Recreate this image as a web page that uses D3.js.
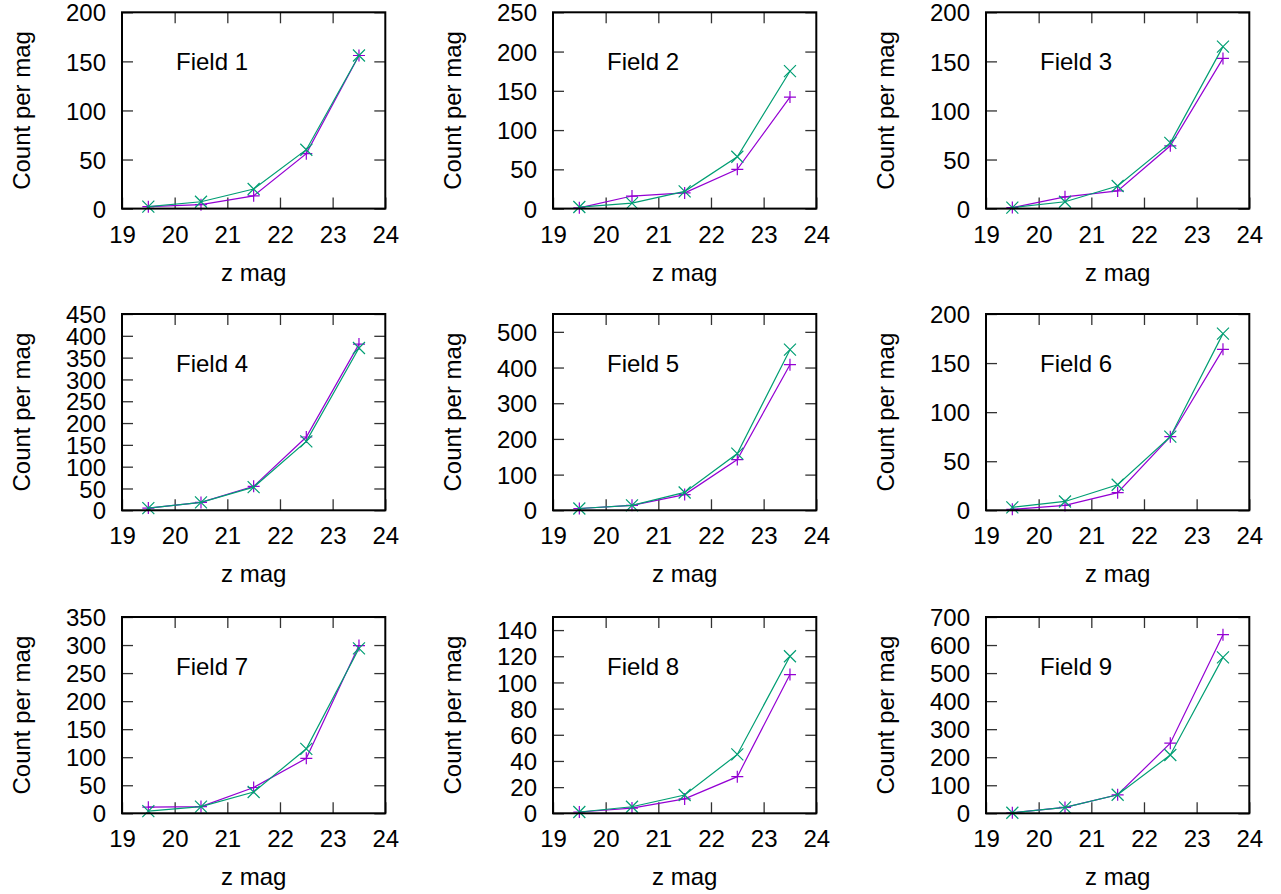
<!DOCTYPE html>
<html>
<head>
<meta charset="utf-8">
<script src="https://cdn.jsdelivr.net/npm/d3@7"></script>
<style>
  html, body { margin: 0; padding: 0; background: #fff; }
  svg { display: block; font-family: "Liberation Sans", Arial, sans-serif; }
</style>
</head>
<body>
<svg id="chart" width="1281" height="894"></svg>
<script>
// Magnitude bin centres shared by every field
const magBins = [19.5, 20.5, 21.5, 22.5, 23.5];
const xTicks = [19, 20, 21, 22, 23, 24];
const fieldLabels = ["Field 1", "Field 2", "Field 3", "Field 4", "Field 5",
                     "Field 6", "Field 7", "Field 8", "Field 9"];

// Counts per magnitude, first set (purple "+")
const countsPlus = [
  [2, 4, 13, 56, 156],
  [1, 16, 20, 50, 142],
  [1, 12, 18, 64, 153],
  [5, 18, 55, 168, 381],
  [5, 14, 44, 142, 408],
  [1, 5, 18, 75, 164],
  [11, 12, 46, 98, 299],
  [1, 4, 11, 28, 106],
  [2, 21, 66, 250, 637]
];

// Counts per magnitude, second set (green "x")
const countsCross = [
  [2, 7, 20, 60, 156],
  [2, 7, 22, 66, 175],
  [1, 7, 23, 67, 165],
  [5, 18, 53, 158, 372],
  [5, 14, 50, 159, 450],
  [3, 9, 26, 75, 180],
  [4, 12, 38, 115, 294],
  [1, 5, 14, 45, 120],
  [2, 21, 66, 208, 556]
];

// Y range and tick step for each field
const yMax  = [200, 250, 200, 450, 550, 200, 350, 150, 700];
const yStep = [50, 50, 50, 50, 100, 50, 50, 20, 100];

const colLeft = [122, 553, 986];
const rowTop = [12.3, 314, 617];
const plotW = 263.3;
const plotH = 196.3;
const fontSize = 24;
const colorPlus = "#9400d3";
const colorCross = "#009e73";

const svg = d3.select("#chart");

fieldLabels.forEach((label, i) => {
  const left = colLeft[i % 3];
  const top = rowTop[Math.floor(i / 3)];

  const x = d3.scaleLinear().domain([19, 24]).range([0, plotW]);
  const y = d3.scaleLinear().domain([0, yMax[i]]).range([plotH, 0]);
  const yTicks = d3.range(0, yMax[i] + 0.001, yStep[i]);

  const g = svg.append("g").attr("transform", `translate(${left},${top})`);

  // Inward ticks on all four sides
  const tickLen = -11;
  const axB = g.append("g").attr("transform", `translate(0,${plotH})`)
    .call(d3.axisBottom(x).tickValues(xTicks).tickFormat(d3.format("d"))
      .tickSizeInner(tickLen).tickSizeOuter(0).tickPadding(17));
  const axT = g.append("g")
    .call(d3.axisTop(x).tickValues(xTicks.slice(1, -1)).tickFormat("")
      .tickSizeInner(tickLen).tickSizeOuter(0));
  const axL = g.append("g")
    .call(d3.axisLeft(y).tickValues(yTicks).tickFormat(d3.format("d"))
      .tickSizeInner(tickLen).tickSizeOuter(0).tickPadding(16));
  const axR = g.append("g").attr("transform", `translate(${plotW},0)`)
    .call(d3.axisRight(y).tickValues(yTicks).tickFormat("")
      .tickSizeInner(tickLen).tickSizeOuter(0));

  [axB, axT, axL, axR].forEach(a => {
    a.select(".domain").remove();
    a.selectAll(".tick line").attr("stroke", "#333").attr("stroke-width", 1.3);
    a.selectAll(".tick text")
      .attr("font-size", fontSize)
      .attr("font-family", "Liberation Sans, Arial, sans-serif")
      .attr("fill", "#000");
  });
  axL.selectAll(".tick text").attr("dy", "0.36em");

  // Axis titles
  g.append("text")
    .attr("x", plotW / 2).attr("y", plotH + 72)
    .attr("text-anchor", "middle").attr("font-size", fontSize)
    .text("z mag");
  g.append("text")
    .attr("transform", `translate(-92.5,${plotH / 2}) rotate(-90)`)
    .attr("text-anchor", "middle").attr("font-size", fontSize)
    .text("Count per mag");

  // Field label inside the frame
  g.append("text")
    .attr("x", plotW * 0.205).attr("y", plotH * 0.294)
    .attr("font-size", fontSize)
    .text(label);

  const line = d3.line().x((d, k) => x(magBins[k])).y(d => y(d));

  const drawSeries = (vals, color, shape) => {
    g.append("path").datum(vals)
      .attr("d", line).attr("fill", "none")
      .attr("stroke", color).attr("stroke-width", 1.2);
    g.selectAll(null).data(vals).enter().append("path")
      .attr("transform", (d, k) => `translate(${x(magBins[k])},${y(d)})`)
      .attr("d", shape)
      .attr("fill", "none").attr("stroke", color).attr("stroke-width", 1.2);
  };
  drawSeries(countsPlus[i], colorPlus, "M-6,0H6M0,-6V6");
  drawSeries(countsCross[i], colorCross, "M-6,-6L6,6M-6,6L6,-6");

  // Frame
  g.append("rect")
    .attr("x", 0).attr("y", 0).attr("width", plotW).attr("height", plotH)
    .attr("fill", "none").attr("stroke", "#000").attr("stroke-width", 2);
});
</script>
</body>
</html>
